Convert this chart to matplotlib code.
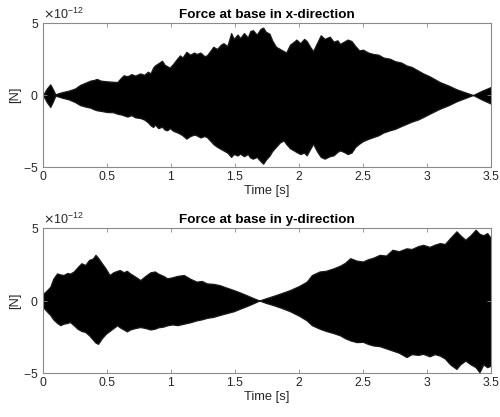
import numpy as np
import matplotlib
matplotlib.use('Agg')
import matplotlib.pyplot as plt
from matplotlib.ticker import ScalarFormatter

plt.rcParams['font.family'] = ['Liberation Sans', 'DejaVu Sans']
plt.rcParams['axes.unicode_minus'] = False

#%% envelope of the base force signals (units of 1e-12 N)

tx = [0.00, 0.03, 0.057, 0.08, 0.096, 0.12, 0.15, 0.2, 0.25, 0.29,
      0.33, 0.37, 0.40, 0.42, 0.45, 0.5, 0.55, 0.58, 0.61, 0.63,
      0.66, 0.69, 0.72, 0.76, 0.79, 0.82, 0.84, 0.86, 0.875, 0.9,
      0.93, 0.95, 0.97, 0.99, 1.02, 1.05, 1.07, 1.09, 1.12, 1.15,
      1.18, 1.2, 1.23, 1.26, 1.28, 1.31, 1.33, 1.36, 1.39, 1.41,
      1.44, 1.47, 1.49, 1.52, 1.54, 1.57, 1.6, 1.62, 1.64, 1.67,
      1.7, 1.72, 1.74, 1.77, 1.79, 1.82, 1.85, 1.88, 1.9, 1.93,
      1.96, 1.98, 2.01, 2.04, 2.06, 2.09, 2.11, 2.14, 2.17, 2.2,
      2.24, 2.27, 2.3, 2.32, 2.35, 2.38, 2.41, 2.44, 2.47, 2.5,
      2.54, 2.58, 2.62, 2.66, 2.71, 2.75, 2.8, 2.84, 2.88, 2.93,
      2.97, 3.02, 3.1, 3.17, 3.23, 3.3, 3.36, 3.43, 3.5]
fx_up = [0.0, 0.45, 0.74, 0.35, 0.05, 0.12, 0.2, 0.3, 0.45, 0.7,
         0.85, 1.0, 1.05, 1.12, 1.0, 0.95, 0.92, 0.9, 1.2, 1.37,
         1.3, 1.45, 1.35, 1.5, 1.4, 1.62, 1.5, 1.9, 2.06, 2.2,
         2.38, 2.1, 2.0, 1.9, 2.2, 2.55, 2.75, 2.6, 3.0, 2.8,
         2.95, 2.85, 2.95, 2.7, 2.75, 3.1, 3.35, 3.2, 3.5, 3.6,
         3.4, 4.3, 3.9, 4.2, 3.95, 4.3, 4.0, 4.45, 4.5, 4.2,
         4.6, 4.68, 4.4, 4.25, 3.8, 3.35, 3.2, 3.05, 2.95, 3.5,
         3.7, 3.85, 3.6, 3.9, 3.75, 3.3, 3.05, 3.6, 4.15, 3.9,
         4.05, 3.7, 3.8, 3.55, 3.7, 3.85, 3.75, 3.4, 3.1, 3.15,
         2.95, 2.85, 2.8, 2.6, 2.52, 2.35, 2.25, 2.05, 1.95, 1.7,
         1.5, 1.3, 0.9, 0.65, 0.4, 0.18, 0.0, 0.3, 0.56]
fx_lo = [0.0, -0.5, -0.83, -0.4, -0.05, -0.1, -0.19, -0.3, -0.49, -0.7,
         -0.8, -0.88, -1.0, -1.06, -1.1, -1.18, -1.2, -1.3, -1.35, -1.41,
         -1.5, -1.4, -1.55, -1.6, -1.7, -1.9, -2.1, -2.22, -2.05, -2.3,
         -2.2, -2.4, -2.45, -2.3, -2.5, -2.6, -2.69, -2.8, -3.03, -2.85,
         -2.75, -2.8, -2.95, -2.85, -2.92, -3.2, -3.4, -3.6, -3.75, -3.85,
         -4.0, -4.3, -4.1, -4.2, -4.07, -4.25, -4.1, -4.35, -4.42, -4.3,
         -4.6, -4.77, -4.5, -4.2, -3.9, -3.6, -3.3, -3.15, -3.4, -3.7,
         -3.85, -3.96, -4.1, -4.0, -4.19, -3.7, -3.38, -3.9, -4.3, -4.42,
         -4.25, -4.19, -3.95, -3.85, -3.95, -4.1, -4.0, -3.6, -3.38, -3.2,
         -3.05, -2.92, -2.8, -2.6, -2.45, -2.35, -2.15, -2.0, -1.85, -1.7,
         -1.53, -1.3, -0.95, -0.7, -0.44, -0.2, 0.0, -0.32, -0.6]

ty = [0.0, 0.03, 0.057, 0.08, 0.11, 0.135, 0.16, 0.19, 0.21, 0.24,
      0.27, 0.30, 0.33, 0.36, 0.39, 0.41, 0.43, 0.46, 0.49, 0.52,
      0.55, 0.58, 0.60, 0.63, 0.655, 0.68, 0.72, 0.76, 0.8, 0.84,
      0.875, 0.9, 0.94, 0.97, 1.01, 1.05, 1.1, 1.15, 1.2, 1.24,
      1.28, 1.33, 1.38, 1.43, 1.49, 1.54, 1.59, 1.64, 1.69, 1.74,
      1.8, 1.86, 1.93, 2.0, 2.06, 2.1, 2.16, 2.21, 2.27, 2.32,
      2.36, 2.4, 2.45, 2.5, 2.54, 2.58, 2.63, 2.68, 2.73, 2.78,
      2.84, 2.88, 2.93, 2.97, 3.02, 3.06, 3.1, 3.14, 3.18, 3.23,
      3.26, 3.3, 3.34, 3.38, 3.41, 3.44, 3.47, 3.5]
fy_up = [0.45, 0.7, 0.95, 1.5, 1.87, 1.8, 1.76, 1.9, 1.85, 2.0,
         2.3, 2.57, 2.45, 2.8, 2.9, 3.15, 2.95, 2.57, 2.2, 1.76,
         1.95, 2.05, 2.1, 1.95, 2.05, 1.87, 1.65, 1.41, 1.7, 1.95,
         2.0, 1.85, 1.7, 1.53, 1.6, 1.7, 1.76, 1.5, 1.3, 1.35,
         1.18, 1.15, 1.06, 0.9, 0.72, 0.55, 0.37, 0.18, 0.0, 0.15,
         0.32, 0.5, 0.72, 1.0, 1.3, 1.75, 2.0, 2.05, 2.22, 2.4,
         2.6, 2.92, 2.75, 2.69, 2.85, 2.95, 3.15, 3.1, 3.5, 3.4,
         3.6, 3.55, 3.75, 3.84, 3.7, 3.85, 3.96, 3.9, 4.3, 4.77,
         4.5, 4.19, 4.5, 4.88, 4.6, 4.5, 4.65, 4.3]
fy_lo = [-0.45, -0.75, -1.0, -1.3, -1.55, -1.7, -1.6, -1.55, -1.48, -1.7,
         -1.95, -2.1, -2.17, -2.4, -2.7, -2.9, -2.99, -2.6, -2.3, -2.1,
         -1.9, -1.71, -1.85, -2.0, -2.13, -2.0, -1.9, -1.83, -1.9, -2.0,
         -1.94, -1.85, -1.8, -1.71, -1.65, -1.7, -1.6, -1.5, -1.37, -1.3,
         -1.2, -1.13, -1.0, -0.88, -0.74, -0.56, -0.39, -0.2, 0.0, -0.16,
         -0.32, -0.5, -0.74, -1.05, -1.37, -1.7, -1.94, -2.1, -2.25, -2.4,
         -2.6, -2.75, -2.87, -2.85, -3.0, -3.1, -3.15, -3.3, -3.45, -3.6,
         -3.9, -3.7, -3.75, -3.68, -3.85, -3.7, -3.8, -4.0, -4.4, -4.72,
         -4.4, -4.14, -4.4, -4.6, -4.95, -4.4, -4.6, -4.49]

panels = [(tx, fx_up, fx_lo, 'Force at base in x-direction'),
          (ty, fy_up, fy_lo, 'Force at base in y-direction')]
positions = [[0.086, 0.5995, 0.896, 0.3453],
             [0.086, 0.1055, 0.896, 0.3477]]

axcol = '#8a8a8a'
txtcol = '#262626'

fig = plt.figure(figsize=(5.0, 4.17), dpi=100)

for (t, up, lo, title), pos in zip(panels, positions):
    ax = fig.add_axes(pos)
    t = np.array(t)
    up = np.array(up) * 1e-12
    lo = np.array(lo) * 1e-12
    ax.fill_between(t, lo, up, facecolor='k', edgecolor='#1a1a1a', lw=0.9)
    ax.set_xlim(0, 3.5)
    ax.set_ylim(-5e-12, 5e-12)
    ax.set_xticks(np.arange(0, 3.51, 0.5))
    ax.set_xticklabels(['0', '0.5', '1', '1.5', '2', '2.5', '3', '3.5'])
    ax.set_yticks([-5e-12, 0, 5e-12])
    fmt = ScalarFormatter(useMathText=True)
    fmt.set_powerlimits((0, 0))
    ax.yaxis.set_major_formatter(fmt)
    ax.yaxis.get_offset_text().set_fontsize(9)
    ax.yaxis.get_offset_text().set_color(txtcol)
    ax.tick_params(direction='in', top=True, right=True, length=3, width=0.6,
                   color=axcol, labelsize=8.8, labelcolor=txtcol, pad=3)
    for s in ax.spines.values():
        s.set_color(axcol)
        s.set_linewidth(0.8)
    ax.set_title(title, fontsize=9.7, fontweight='bold', color='k', pad=3.5)
    ax.set_xlabel('Time [s]', fontsize=9.3, color=txtcol, labelpad=1)
    ax.set_ylabel('[N]', fontsize=9.3, color=txtcol, labelpad=2)

fig.savefig('out.png', dpi=100)
